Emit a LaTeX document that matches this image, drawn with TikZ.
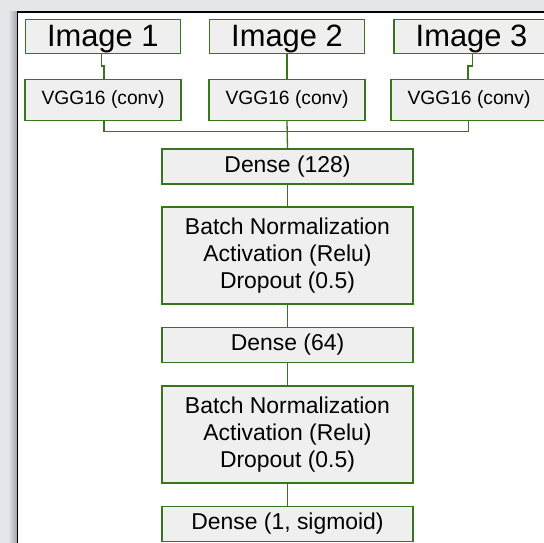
\documentclass[tikz,border=0pt]{standalone}
\usepackage{fontspec}
\setmainfont{Liberation Sans}
\usepackage{xcolor}
\definecolor{nnborder}{RGB}{56,118,29}
\definecolor{nnfill}{RGB}{239,239,239}
\definecolor{screengrey}{RGB}{228,230,234}
\definecolor{shadowgrey}{RGB}{160,162,168}
\usetikzlibrary{positioning, calc}

\begin{document}
\begin{tikzpicture}[x=1bp, y=-1bp,
    layer/.style={draw=nnborder, fill=nnfill, line width=1.4bp, inner sep=0pt,
                  align=center, font=\fontsize{23}{27.5}\selectfont},
    imgbox/.style={layer, minimum width=155bp, minimum height=34bp,
                   text height=22bp, text depth=1bp,
                   font=\fontsize{31}{34}\selectfont},
    convbox/.style={layer, minimum width=156bp, minimum height=41bp,
                    font=\fontsize{19.3}{22}\selectfont},
    denbox/.style={layer, minimum width=251bp, minimum height=35bp},
    bnbox/.style={layer, minimum width=251bp, minimum height=97bp},
    link/.style={draw=nnborder, line width=1.3bp}]

  % Frame of the screenshot
  \useasboundingbox (0,0) rectangle (544,543);
  \clip (0,0) rectangle (544,543);
  \fill[screengrey] (0,0) rectangle (544,543);
  \shade[left color=screengrey, right color=shadowgrey] (8,12) rectangle (17.5,543);
  \fill[white] (17.5,12) rectangle (544,543);
  \draw[black, line width=1.6bp] (17.5,543) -- (17.5,12) -- (544,12);

  % Inputs
  \node[imgbox] (img1) at (102.8,36.3) {Image 1};
  \node[imgbox] (img2) at (287,36.3) {Image 2};
  \node[imgbox] (img3) at (471.5,36.3) {Image 3};

  % Convolutional bases
  \node[convbox] (vgg1) at (103,100) {VGG16 (conv)};
  \node[convbox] (vgg2) at (287,100) {VGG16 (conv)};
  \node[convbox] (vgg3) at (469,100) {VGG16 (conv)};

  % Head
  \node[denbox] (dense1) at (287.5,166.5) {Dense (128)};
  \node[bnbox] (bn1) at (287.5,255.5) {Batch Normalization\\Activation (Relu)\\Dropout (0.5)};
  \node[denbox] (dense2) at (287.5,345) {Dense (64)};
  \node[bnbox] (bn2) at (287.5,434.5) {Batch Normalization\\Activation (Relu)\\Dropout (0.5)};
  \node[denbox] (dense3) at (287.5,524) {Dense (1, sigmoid)};

  % Connections
  \draw[link] ([xshift=-1bp]img1.south) -- ++(0,12) -| ([xshift=1bp]vgg1.north);
  \draw[link] (img2.south) -- (vgg2.north);
  \draw[link] ([xshift=1bp]img3.south) -- ++(0,12) -| ([xshift=-1bp]vgg3.north);
  \draw[link] ([xshift=1bp]vgg1.south) -- ++(0,10.5) -| ([xshift=-0.7bp]vgg3.south);
  \draw[link] (vgg2.south) -- (dense1.north);
  \draw[link] (dense1) -- (bn1);
  \draw[link] (bn1) -- (dense2);
  \draw[link] (dense2) -- (bn2);
  \draw[link] (bn2) -- (dense3);

\end{tikzpicture}
\end{document}
